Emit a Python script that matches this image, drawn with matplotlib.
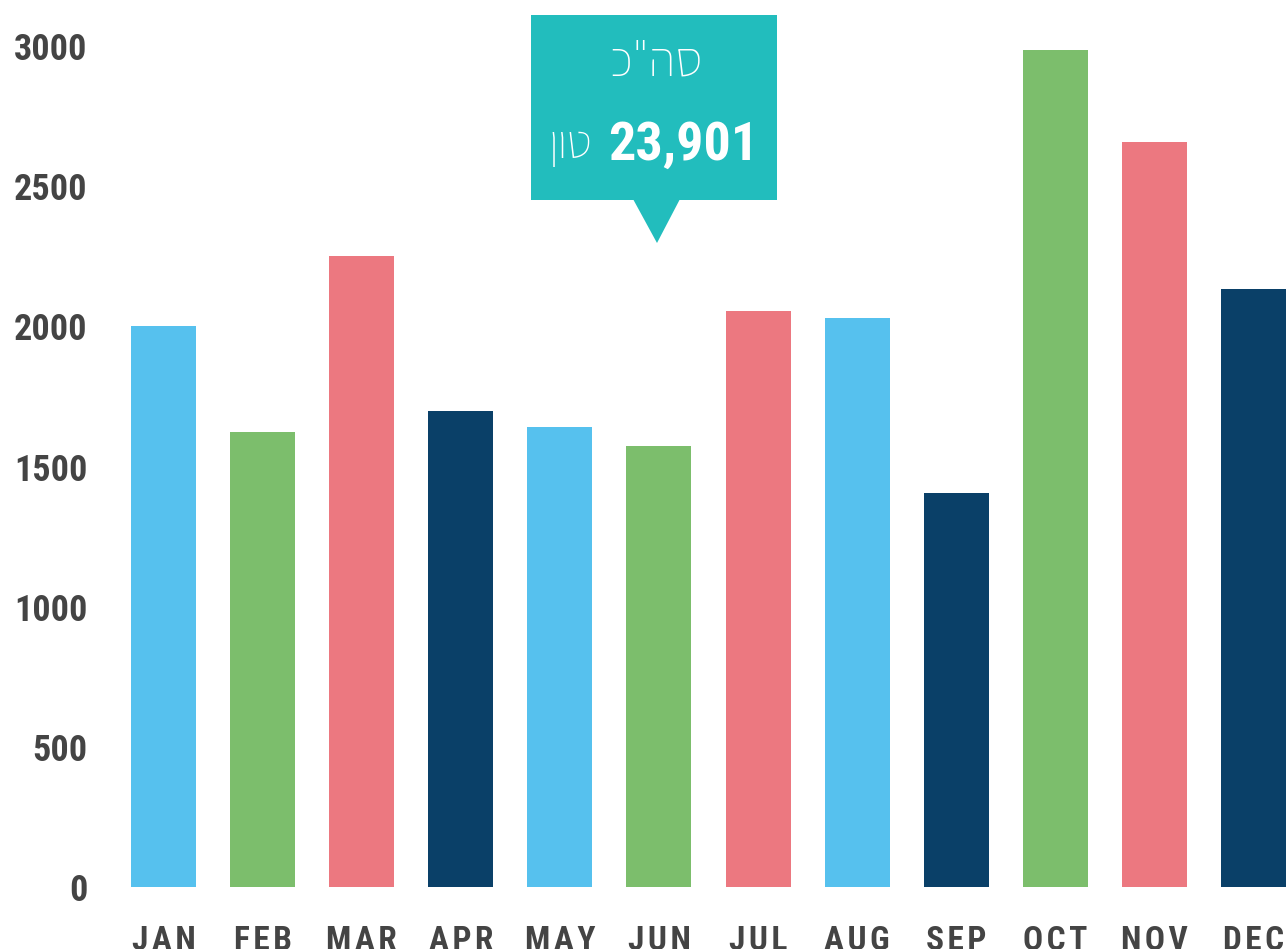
import matplotlib
matplotlib.use("Agg")
import matplotlib.pyplot as plt
from matplotlib.patches import Polygon, Rectangle

# data
months = ["JAN", "FEB", "MAR", "APR", "MAY", "JUN",
          "JUL", "AUG", "SEP", "OCT", "NOV", "DEC"]
tons = [2000, 1623, 2251, 1698, 1641, 1573, 2055, 2030, 1406, 2986, 2658, 2133]
yticks = [0, 500, 1000, 1500, 2000, 2500, 3000]
total_label = "23,901"
total_title = "סה\"כ"
unit_label = "טון"

blue, green, pink, navy = "#56C1EE", "#7CBE6C", "#EC7880", "#0A4068"
bar_colors = [blue, green, pink, navy, blue, green, pink, blue, navy, green, pink, navy]
teal = "#22BDBD"
gray = "#444444"

cond = ["Roboto Condensed", "Roboto", "DejaVu Sans"]
heb = ["Assistant", "Liberation Sans", "DejaVu Sans"]

W, H = 1287, 949
fig = plt.figure(figsize=(W / 100, H / 100), dpi=100)


def px(x, y):
    # pixel (top-left origin) -> figure fraction
    return x / W, 1 - y / H


left, right = 115, 1287
bottom, top = 887, 46
ax = fig.add_axes([left / W, 1 - bottom / H, (right - left) / W, (bottom - top) / H])

x = list(range(len(months)))
ax.bar(x, tons, width=0.656, color=bar_colors)
ax.set_xlim(-0.489, 11.337)
ax.set_ylim(0, 3000)

for s in ax.spines.values():
    s.set_visible(False)

ax.set_yticks(yticks)
ax.set_yticklabels([str(v) for v in yticks], family=cond,
                   fontweight="bold", fontsize=26, color=gray)
ax.set_xticks(x)
ax.set_xticklabels(["\u200a".join(m) for m in months], family=cond,
                   fontweight="bold", fontsize=24, color=gray)
ax.tick_params(axis="y", length=0, pad=20)
ax.tick_params(axis="x", length=0, pad=27)

# callout box
fig.patches.append(Rectangle(px(531, 200), 246 / W, 185 / H, transform=fig.transFigure,
                             facecolor=teal, edgecolor="none"))
fig.patches.append(Polygon([px(633, 199), px(680, 199), px(657, 243)], closed=True,
                           transform=fig.transFigure, facecolor=teal, edgecolor="none"))

# matplotlib has no bidi, so Hebrew is given in visual order
fig.text(*px(656, 76), total_title[::-1], ha="center", va="baseline", color="white",
         fontsize=36, family=heb, fontweight=300)
fig.text(*px(758, 160), total_label, ha="right", va="baseline", color="white",
         fontsize=39, family=cond, fontweight="bold")
fig.text(*px(592, 158), unit_label[::-1], ha="right", va="baseline", color="white",
         fontsize=34, family=heb, fontweight=300)

fig.savefig("out.png", dpi=100)
